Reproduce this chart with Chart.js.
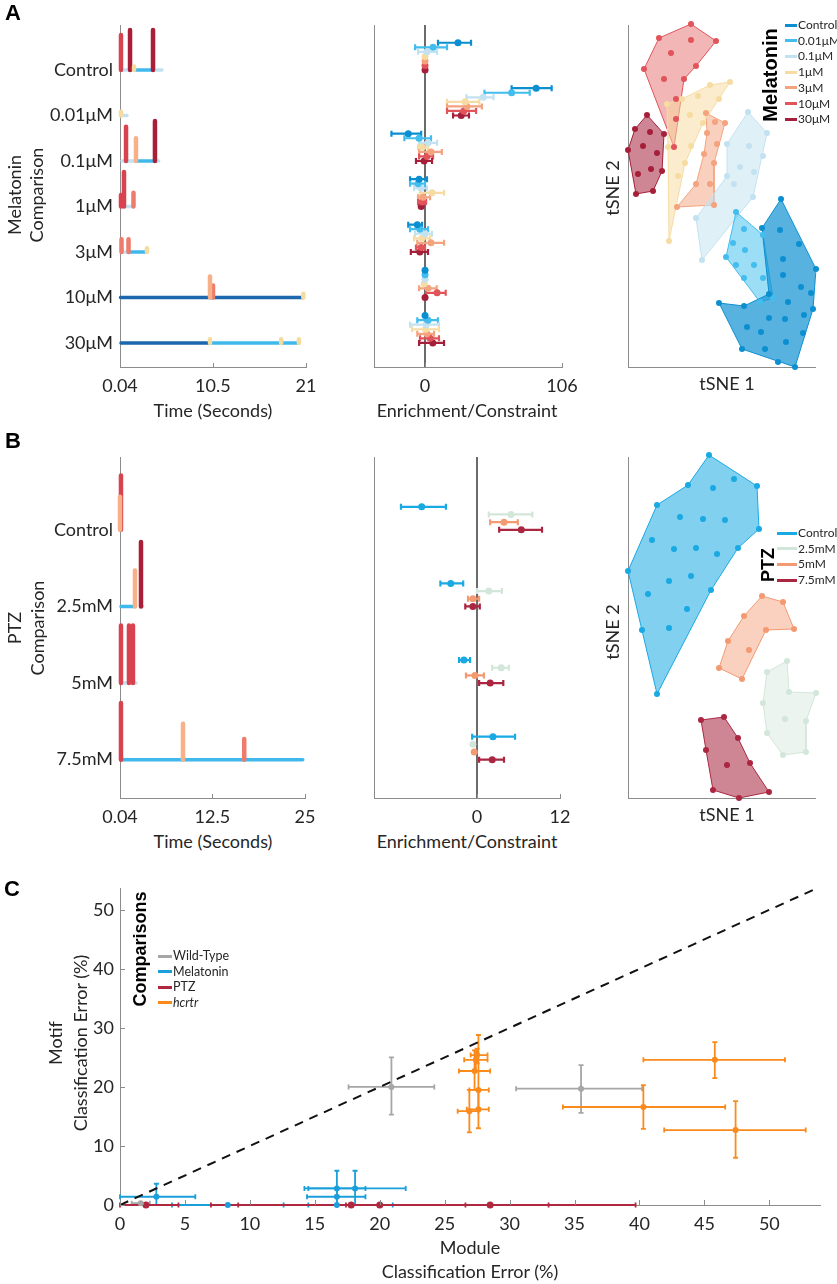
<!DOCTYPE html>
<html>
<head>
<meta charset="utf-8">
<title>Motif comparisons</title>
<script src="https://cdn.jsdelivr.net/npm/chart.js@4.4.1/dist/chart.umd.min.js"></script>
<style>
  body { margin: 0; background: #fff; }
  #page { position: relative; width: 837px; height: 1284px; overflow: hidden;
          font-family: Lato, "Open Sans", sans-serif; color: #262626; }
  #page canvas { position: absolute; }
  .txt { position: absolute; white-space: nowrap; line-height: 1; }
  .key { position: absolute; height: 3px; }
</style>
</head>
<body>
<div id="page"></div>
<script>
// ---------- Panel A: melatonin ----------
const melRows = ['Control', '0.01μM', '0.1μM', '1μM', '3μM', '10μM', '30μM'];
const melTimeTicks = [0.04, 10.5, 21];
// baseline pieces: [row, start (s), end (s), motif]
const melBase = [
  [0, 0.3, 1.05, 2], [0, 1.73, 3.6, 1], [0, 4.0, 4.77, 2],
  [1, 0.27, 0.83, 2],
  [2, 0.27, 1.8, 2], [2, 1.95, 3.76, 1], [2, 4.1, 4.4, 2],
  [3, 0.6, 1.5, 2],
  [4, 0.27, 0.95, 2], [4, 1.17, 2.97, 1],
  [5, 0.1, 20.7, 0],
  [6, 0.15, 10.07, 0], [6, 10.18, 18.07, 1], [6, 18.3, 20.1, 1]
];
// peaks: [row, time (s), height (rows), motif]
const melPeaks = [
  [0, 0.15, 0.77, 6], [0, 1.17, 0.88, 7], [0, 1.62, 0.08, 3], [0, 3.76, 0.88, 7],
  [1, 0.15, 0.08, 3],
  [2, 0.72, 0.75, 6], [2, 1.84, 0.5, 4], [2, 3.98, 0.88, 7],
  [3, 0.15, 0.25, 6], [3, 0.49, 0.76, 6], [3, 1.56, 0.3, 5],
  [4, 0.21, 0.28, 5], [4, 1.0, 0.28, 5], [4, 3.08, 0.08, 3],
  [5, 10.18, 0.46, 4], [5, 10.52, 0.26, 5], [5, 20.7, 0.08, 3],
  [6, 10.18, 0.08, 3], [6, 18.2, 0.08, 3], [6, 20.2, 0.08, 3]
];
// enrichment per row group, one value per concentration (Control .. 30μM)
const melMean = [
  [25.5, 6.2, 1.5, 0, 0, 0, 0],
  [86, 67, 45, 31, 32.5, 30, 28],
  [-13, -4.6, 2.3, -2, 4.6, 1.5, -0.7],
  [-4.6, -5.4, -3, 5.4, -1.5, -2.3, -3],
  [-6, -4, 0, -2.3, 4.6, -3, -4],
  [0, 0, 0, -0.7, 2.3, 9.3, 0],
  [0, 2.3, 0.8, 0.5, 1.5, 3.9, 6]
];
const melLo = [
  [10, -7.7, -5.4, null, null, null, null],
  [67, 46, 32, 17, 17, 17, 21.7],
  [-26, -16, -4.6, -5.4, -4.6, -4.6, -7],
  [-11.6, -11.6, -8.5, -3.9, -5.4, -5.4, null],
  [-13, -11.6, -7.7, -8.5, -6, -7, -11],
  [null, null, null, null, -4.6, 0.8, null],
  [null, -6, -11.6, -10, -6, -3.9, -4.6]
];
const melHi = [
  [35.6, 17, 9.3, null, null, null, null],
  [98, 81, 53, 42, 44, 39.5, 34],
  [-3, 4.6, 9.3, 2.3, 13, 6.2, 5.4],
  [1.5, 0, 1.5, 14.7, 3.9, 0.8, null],
  [-2.3, 2.3, 5.4, 3.9, 14.7, 0, 2.3],
  [null, null, null, null, 9, 16, null],
  [null, 10, 10.8, 10.8, 7, 10.8, 14.7]
];
const melEnrTicks = [0, 106];
// tSNE embedding, hull vertices and inner points per concentration
const melHull = [
  [[153, 168], [188, 98], [185, 58], [167, 0], [114, 18], [91, 64], [116, 61], [141, 73], [134, 139]],
  [[108, 155], [135, 132], [145, 69], [132, 65], [98, 110]],
  [[120, 255], [139, 234], [125, 170], [74, 107], [68, 149], [99, 191], [99, 223]],
  [[39, 263], [54, 268], [82, 282], [102, 285], [75, 244], [57, 204], [41, 126], [40, 220]],
  [[78, 254], [97, 244], [86, 204], [86, 162], [49, 160], [68, 183], [76, 213], [79, 234]],
  [[63, 343], [88, 326], [68, 301], [56, 288], [46, 220], [16, 298], [31, 329]],
  [[19, 252], [36, 233], [34, 196], [25, 176], [8, 173], [0, 217], [7, 238]]
];
const melInner = [
  [[152, 137], [171, 123], [155, 108], [155, 92], [173, 80], [183, 74], [160, 65], [141, 49],
   [119, 40], [157, 48], [176, 52], [133, 35], [158, 25], [175, 34], [137, 18], [150, 5]],
  [[116, 138], [105, 124], [117, 117], [126, 102], [108, 102], [116, 89], [135, 89]],
  [[121, 221], [135, 211], [112, 200], [126, 195], [106, 183]],
  [[70, 271], [91, 268], [62, 252], [63, 221], [50, 191]],
  [[87, 245], [89, 223], [82, 183]],
  [[43, 314], [63, 327], [36, 288], [48, 268], [48, 248]],
  [[22, 235], [15, 221], [29, 214], [23, 198], [10, 193]]
];

// ---------- Panel B: PTZ ----------
const ptzRows = ['Control', '2.5mM', '5mM', '7.5mM'];
const ptzTimeTicks = [0.04, 12.5, 25];
const ptzBase = [
  [1, 0.17, 2.06, 1], [1, 2.95, 3.1, 2],
  [2, 0.31, 2.2, 2],
  [3, 0.31, 24.7, 1]
];
const ptzPeaks = [
  [0, 0.04, 0.43, 4], [0, 0.17, 0.71, 6],
  [1, 2.06, 0.47, 4], [1, 2.87, 0.84, 7],
  [2, 0.17, 0.75, 6], [2, 1.25, 0.75, 6], [2, 1.79, 0.75, 6],
  [3, 0.17, 0.74, 6], [3, 8.54, 0.47, 4], [3, 16.8, 0.27, 5]
];
const ptzMean = [
  [-8, 4.9, 3.9, 6.4],
  [-3.8, 1.7, -0.6, -0.6],
  [-1.9, 3.5, -0.3, 1.9],
  [2.3, -0.6, -0.4, 2.2]
];
const ptzLo = [
  [-11, 1.7, 1.9, 3.2],
  [-5.3, 0, -1.3, -1.7],
  [-2.6, 2.2, -1.6, 0.3],
  [-0.7, null, null, 0.3]
];
const ptzHi = [
  [-4.5, 8, 5.9, 9.4],
  [-2, 3.6, 0.3, 0.4],
  [-1, 4.6, 1, 3.8],
  [5.5, null, null, 3.9]
];
const ptzEnrTicks = [0, 12];
const ptzHull = [
  [[81, 343], [129, 312], [131, 269], [110, 250], [83, 208], [29, 104], [0, 227], [29, 293], [60, 313]],
  [[159, 137], [161, 106], [188, 105], [178, 77], [178, 46], [155, 43], [139, 65], [135, 95], [139, 126]],
  [[134, 202], [155, 196], [166, 169], [138, 168], [114, 119], [91, 130], [100, 157], [116, 182]],
  [[73, 78], [96, 81], [110, 60], [122, 35], [141, 6], [111, 0], [85, 8], [78, 48]]
];
const ptzInner = [
  [[106, 319], [85, 310], [52, 281], [75, 279], [97, 278], [24, 258], [46, 249], [68, 250],
   [89, 244], [63, 222], [41, 217], [20, 204], [59, 189], [14, 168], [41, 170]],
  [[157, 79]],
  [[121, 148]],
  [[99, 33]]
];

// ---------- Panel C: classification error ----------
const cmpNames = ['Wild-Type', 'Melatonin', 'PTZ', '<i>hcrtr</i>'];
const moduleTicks = [0, 5, 10, 15, 20, 25, 30, 35, 40, 45, 50];
const motifTicks = [0, 10, 20, 30, 40, 50];
const identityLine = [0, 54];
// points are [module error, motif error]
const wtPts = [[20.9, 20], [35.5, 19.7], [1.6, 0.3]];
const wtXErr = [[17.6, 24.2], [30.5, 40.2], [0.9, 2.3]];
const wtYErr = [[15.3, 25], [15.6, 23.7], null];
const melPts = [[2.8, 1.4], [16.7, 2.8], [16.7, 1.4], [18.1, 2.8], [8.3, 0], [16.7, 0]];
const melXErr = [[0, 5.8], [14.2, 18.9], [14.4, 18.9], [14.5, 22], [4, 12.6], [14.5, 21]];
const melYErr = [[0, 3.6], [0, 5.8], [0, 2.8], [0, 5.8], null, null];
const ptzPts = [[2, 0], [17.8, 0], [20, 0], [28.5, 0]];
const ptzXErr = [[0, 4.5], [9.1, 26.6], [7, 33], [17.4, 39.7]];
const hcrtrPts = [[27.5, 25.4], [27.4, 24.6], [27.3, 22.7], [27.6, 19.5], [27.6, 16.2], [26.9, 15.9],
                  [45.8, 24.6], [40.3, 16.6], [47.4, 12.7]];
const hcrtrXErr = [[27, 28.3], [26.5, 28.3], [26.1, 28.5], [26.9, 28.4], [26.7, 28.4], [26, 27.6],
                   [40.3, 51.2], [34.1, 46.6], [41.9, 52.8]];
const hcrtrYErr = [[24, 26.5], [22.7, 26.2], [19.5, 26.2], [16, 28.8], [13, 19.4], [12.3, 19.5],
                   [21.5, 27.6], [12.9, 20.3], [8, 17.6]];

// ---------- colours ----------
const motifColors = ['#1c67ad', '#3fb9ec', '#c2e2f1', '#f6dba0', '#f7b088', '#ee7b6b', '#d8434f', '#a91f38'];
const melColors = ['#0b8fd1', '#42bdee', '#c3e2f1', '#f6dca3', '#f4a37f', '#e0545a', '#a61f3a'];
const melFills = ['rgba(17,146,210,0.7)', 'rgba(76,194,240,0.55)', 'rgba(197,227,241,0.55)',
                  'rgba(245,217,155,0.5)', 'rgba(244,162,124,0.5)', 'rgba(227,93,95,0.45)', 'rgba(168,34,60,0.55)'];
const ptzColors = ['#19a9e3', '#d3e6da', '#f39a72', '#ab2640'];
const ptzFills = ['rgba(25,169,227,0.55)', 'rgba(211,230,218,0.45)', 'rgba(243,154,114,0.45)', 'rgba(168,34,60,0.55)'];
const cmpColors = ['#a6a6a6', '#1b9fdb', '#b0283f', '#fb8a1c'];

Chart.defaults.font.family = 'Lato, "Open Sans", sans-serif';
Chart.defaults.color = '#262626';
Chart.defaults.animation = false;
Chart.defaults.events = [];
Chart.defaults.plugins.legend.display = false;
Chart.defaults.plugins.tooltip.enabled = false;

const page = document.getElementById('page');

// error bars drawn from errX / errY on the dataset, through the chart scales
const errorBars = {
  id: 'errorBars',
  beforeDatasetsDraw(chart) {
    const ctx = chart.ctx, xs = chart.scales.x, ys = chart.scales.y;
    chart.data.datasets.forEach(ds => {
      if (!ds.errX && !ds.errY) return;
      ctx.save();
      ctx.strokeStyle = ds.borderColor;
      ctx.lineWidth = ds.errWidth || 2;
      const cap = ds.errCap || 3;
      ds.data.forEach((p, j) => {
        const px = xs.getPixelForValue(p.x), py = ys.getPixelForValue(p.y);
        const ex = ds.errX && ds.errX[j], ey = ds.errY && ds.errY[j];
        ctx.beginPath();
        if (ex) {
          const a = xs.getPixelForValue(ex[0]), b = xs.getPixelForValue(ex[1]);
          ctx.moveTo(a, py); ctx.lineTo(b, py);
          ctx.moveTo(a, py - cap); ctx.lineTo(a, py + cap);
          ctx.moveTo(b, py - cap); ctx.lineTo(b, py + cap);
        }
        if (ey) {
          const a = ys.getPixelForValue(ey[0]), b = ys.getPixelForValue(ey[1]);
          ctx.moveTo(px, a); ctx.lineTo(px, b);
          ctx.moveTo(px - cap, a); ctx.lineTo(px + cap, a);
          ctx.moveTo(px - cap, b); ctx.lineTo(px + cap, b);
        }
        ctx.stroke();
      });
      ctx.restore();
    });
  }
};

// small tick marks pointing into the plot (matlab style)
const inTicks = {
  id: 'inTicks',
  afterDatasetsDraw(chart, args, opts) {
    if (!opts || !opts.len) return;
    const {ctx, chartArea} = chart;
    ctx.save();
    ctx.strokeStyle = '#8c8c8c';
    ctx.lineWidth = 1;
    ['x', 'y'].forEach(id => {
      if (!opts[id]) return;
      const s = chart.scales[id];
      s.ticks.forEach(t => {
        const p = Math.round(s.getPixelForValue(t.value)) + 0.5;
        ctx.beginPath();
        if (id === 'x') { ctx.moveTo(p, chartArea.bottom); ctx.lineTo(p, chartArea.bottom - opts.len); }
        else { ctx.moveTo(chartArea.left, p); ctx.lineTo(chartArea.left + opts.len, p); }
        ctx.stroke();
      });
    });
    ctx.restore();
  }
};

function canvasAt(left, top, w, h) {
  const c = document.createElement('canvas');
  c.width = w; c.height = h;
  c.style.left = left + 'px'; c.style.top = top + 'px';
  c.style.width = w + 'px'; c.style.height = h + 'px';
  page.appendChild(c);
  return c;
}

// fixed-size linear axis so the plot areas line up across panels
function axis(min, max, size, o) {
  o = o || {};
  return {
    type: 'linear', min: min, max: max, bounds: 'data',
    border: {color: '#8c8c8c', width: 1},
    grid: o.grid || {display: false, drawTicks: false},
    ticks: o.labels
      ? {font: {size: 18}, padding: o.pad || 8, maxRotation: 0, autoSkip: false, callback: o.labels}
      : {display: false},
    afterBuildTicks: s => { s.ticks = (o.at || [min, max]).map(v => ({value: v})); },
    afterFit: s => {
      if (s.isHorizontal()) s.height = size; else s.width = size;
      s.paddingLeft = s.paddingRight = s.paddingTop = s.paddingBottom = 0;
    }
  };
}

function segmentSet(segs, color, width, order) {
  const data = [];
  segs.forEach(s => data.push({x: s[0], y: s[1]}, {x: s[2], y: s[3]}, {x: s[2], y: null}));
  return {data: data, showLine: true, spanGaps: false, borderColor: color, borderWidth: width,
          borderCapStyle: 'round', pointRadius: 0, order: order, clip: false};
}

function motifSets(base, peaks, top) {
  const sets = [];
  motifColors.forEach((col, m) => {
    const b = base.filter(s => s[3] === m).map(s => [s[1], top - s[0], s[2], top - s[0]]);
    const p = peaks.filter(s => s[3] === m).map(s => [s[1], top - s[0], s[1], top - s[0] + s[2]]);
    if (b.length) sets.push(segmentSet(b, col, 3.5, 2));
    if (p.length) sets.push(segmentSet(p, col, 4.5, 1));
  });
  return sets;
}

function enrichSets(mean, lo, hi, colors, top) {
  const n = colors.length;
  return colors.map((col, i) => ({
    data: mean.map((row, r) => ({x: row[i], y: top - r + (n - 1 - i) * 0.1})),
    errX: mean.map((row, r) => lo[r][i] == null ? null : [lo[r][i], hi[r][i]]),
    backgroundColor: col, borderColor: col, borderWidth: 0, pointRadius: 3.5,
    errWidth: 2.2, errCap: 3, clip: false
  }));
}

function tsneSets(hulls, inners, colors, fills) {
  const sets = [];
  hulls.forEach((h, g) => {
    sets.push({data: h.concat([h[0]]).map(p => ({x: p[0], y: p[1]})), showLine: true, fill: 'shape',
               backgroundColor: fills[g], borderColor: colors[g], borderWidth: 1, pointRadius: 0,
               order: 2, clip: false});
    sets.push({data: h.concat(inners[g]).map(p => ({x: p[0], y: p[1]})), backgroundColor: colors[g],
               borderWidth: 0, pointRadius: 3, order: 1, clip: false});
  });
  return sets;
}

function text(str, x, y, o) {
  o = o || {};
  const d = document.createElement('div');
  d.className = 'txt';
  d.innerHTML = str;
  d.style.left = x + 'px';
  d.style.top = y + 'px';
  d.style.fontSize = (o.size || 18) + 'px';
  if (o.bold) { d.style.fontWeight = 'bold'; d.style.fontFamily = '"Liberation Sans", Arial, sans-serif'; d.style.color = '#000'; }
  const tx = o.left ? '0' : '-50%';
  d.style.transform = 'translate(' + tx + ',-50%)' + (o.rot ? ' rotate(-90deg)' : '');
  page.appendChild(d);
}

function legend(names, colors, x, y0, dy, w, size) {
  names.forEach((name, i) => {
    const k = document.createElement('div');
    k.className = 'key';
    k.style.left = x + 'px';
    k.style.top = (y0 + i * dy - 1.5) + 'px';
    k.style.width = w + 'px';
    k.style.background = colors[i];
    page.appendChild(k);
    text(name, x + w + 1, y0 + i * dy, {left: true, size: size});
  });
}

function timeChart(canvas, rows, base, peaks, timeTicks, yMin, yMax, padTop, padRight, xH) {
  const top = rows.length - 1;
  return new Chart(canvas, {
    type: 'scatter',
    data: {datasets: motifSets(base, peaks, top)},
    options: {
      responsive: false,
      layout: {padding: {top: padTop, right: padRight, left: 0, bottom: 0}},
      scales: {
        x: axis(timeTicks[0], timeTicks[2], xH, {at: timeTicks, labels: v => String(v)}),
        y: axis(yMin, yMax, 120, {at: rows.map((_, i) => top - i), labels: v => rows[top - v], pad: 7})
      },
      plugins: {inTicks: {x: true, len: 4}}
    },
    plugins: [inTicks]
  });
}

function enrichChart(canvas, rows, mean, lo, hi, colors, xMin, ticks, yMin, yMax, padTop, padRight, xH) {
  const top = rows.length - 1;
  return new Chart(canvas, {
    type: 'scatter',
    data: {datasets: enrichSets(mean, lo, hi, colors, top)},
    options: {
      responsive: false,
      layout: {padding: {top: padTop, right: padRight, left: 0, bottom: 0}},
      scales: {
        x: axis(xMin, ticks[1], xH, {
          at: ticks, labels: v => String(v),
          grid: {display: true, drawTicks: false, lineWidth: 2,
                 color: c => (c.tick && c.tick.value === 0) ? '#6b6b6b' : 'rgba(0,0,0,0)'}
        }),
        y: axis(yMin, yMax, 44)
      },
      plugins: {inTicks: {x: true, len: 4}}
    },
    plugins: [errorBars, inTicks]
  });
}

function tsneChart(canvas, hulls, inners, colors, fills, yMax, padTop, xH) {
  return new Chart(canvas, {
    type: 'scatter',
    data: {datasets: tsneSets(hulls, inners, colors, fills)},
    options: {
      responsive: false,
      layout: {padding: {top: padTop, right: 22, left: 0, bottom: 0}},
      scales: {x: axis(0, 187, xH), y: axis(0, yMax, 28)}
    }
  });
}

// ----- panel A -----
timeChart(canvasAt(0, 0, 320, 400), melRows, melBase, melPeaks, melTimeTicks, -0.53, 6.99, 25, 14, 33);
enrichChart(canvasAt(330, 0, 262, 400), melRows, melMean, melLo, melHi, melColors, -39.5, melEnrTicks, -0.53, 6.99, 25, 30, 33);
tsneChart(canvasAt(600, 0, 237, 400), melHull, melInner, melColors, melFills, 342, 25, 33);

// ----- panel B -----
timeChart(canvasAt(0, 430, 320, 400), ptzRows, ptzBase, ptzPeaks, ptzTimeTicks, -0.5, 3.95, 27, 15, 32);
enrichChart(canvasAt(330, 430, 262, 400), ptzRows, ptzMean, ptzLo, ptzHi, ptzColors, -14.9, ptzEnrTicks, -0.5, 3.95, 27, 32, 32);
tsneChart(canvasAt(600, 430, 237, 400), ptzHull, ptzInner, ptzColors, ptzFills, 341, 27, 32);

// ----- panel C -----
function cmpSet(pts, xe, ye, color, r) {
  return {data: pts.map(p => ({x: p[0], y: p[1]})), errX: xe, errY: ye,
          backgroundColor: color, borderColor: color, borderWidth: 0, pointRadius: r,
          errWidth: 1.8, errCap: 2.5, clip: false};
}
new Chart(canvasAt(0, 870, 837, 414), {
  type: 'scatter',
  data: {
    datasets: [
      {data: identityLine.map(v => ({x: v, y: v})), showLine: true, borderColor: '#111', borderWidth: 2,
       borderDash: [9, 7], pointRadius: 0, order: 5},
      cmpSet(wtPts, wtXErr, wtYErr, cmpColors[0], 3),
      cmpSet(melPts, melXErr, melYErr, cmpColors[1], 3),
      cmpSet(ptzPts, ptzXErr, null, cmpColors[2], 3.5),
      cmpSet(hcrtrPts, hcrtrXErr, hcrtrYErr, cmpColors[3], 3)
    ]
  },
  options: {
    responsive: false,
    layout: {padding: {top: 18, right: 17, left: 0, bottom: 0}},
    scales: {
      x: axis(0, 53.9, 79, {at: moduleTicks, labels: v => String(v)}),
      y: axis(0, 53.7, 120, {at: motifTicks, labels: v => String(v), pad: 6})
    },
    plugins: {inTicks: {x: true, y: true, len: 5}}
  },
  plugins: [errorBars, inTicks]
});

// ----- text -----
text('A', 13, 13, {bold: true, size: 22});
text('B', 13, 441, {bold: true, size: 22});
text('C', 12, 889, {bold: true, size: 22});

text('Melatonin', 14, 195, {rot: true});
text('Comparison', 36, 195, {rot: true});
text('Time (Seconds)', 213, 410);
text('Enrichment/Constraint', 467, 410);
text('tSNE 1', 727, 383);
text('tSNE 2', 612, 188, {rot: true});
text('Melatonin', 770, 75, {rot: true, bold: true, size: 20});
legend(melRows, melColors, 785, 25, 15.7, 12, 12);

text('PTZ', 14, 628, {rot: true});
text('Comparison', 37, 628, {rot: true});
text('Time (Seconds)', 213, 841);
text('Enrichment/Constraint', 467, 841);
text('tSNE 1', 727, 814);
text('tSNE 2', 612, 632, {rot: true});
text('PTZ', 768, 565, {rot: true, bold: true, size: 18});
legend(ptzRows, ptzColors, 777, 533, 15.7, 20, 12);

text('Motif', 55, 1043, {rot: true});
text('Classification Error (%)', 80, 1043, {rot: true});
text('Module', 470, 1247);
text('Classification Error (%)', 470, 1271);
text('Comparisons', 140, 949, {rot: true, bold: true, size: 18});
legend(cmpNames, cmpColors, 158, 956, 15.5, 14, 12.5);
</script>
</body>
</html>
